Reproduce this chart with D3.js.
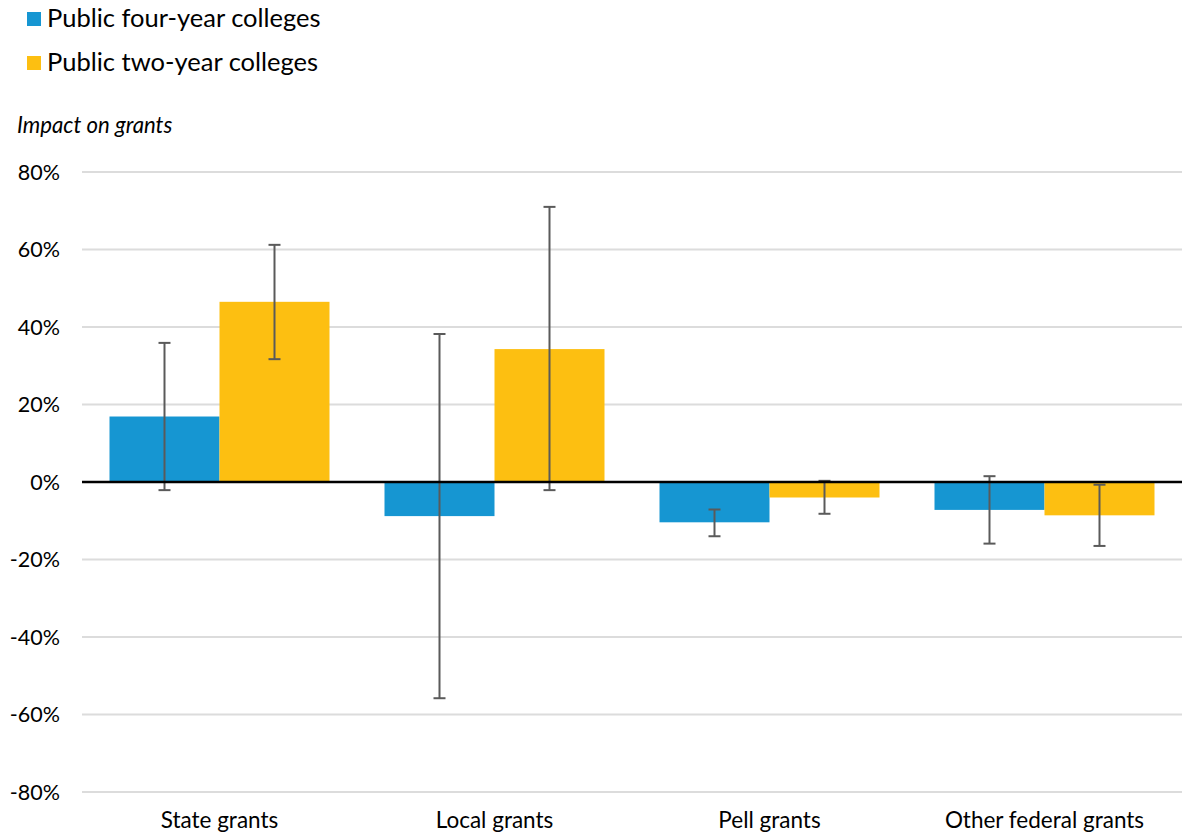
<!DOCTYPE html>
<html><head><meta charset="utf-8">
<script src="https://cdn.jsdelivr.net/npm/d3@7"></script>
<style>
body{margin:0;background:#fff;}
text{font-family:Lato,"Noto Sans",sans-serif;fill:#000;}
</style></head>
<body><svg id="c" width="1183" height="836"></svg>
<script>
const categories = ["State grants","Local grants","Pell grants","Other federal grants"];
const seriesNames = ["Public four-year colleges","Public two-year colleges"];
const fourYear = [16.9, -8.8, -10.4, -7.2];
const fourYearLow = [-2.1, -55.8, -14.0, -15.9];
const fourYearHigh = [35.9, 38.2, -7.1, 1.5];
const twoYear = [46.5, 34.3, -4.0, -8.6];
const twoYearLow = [31.7, -2.1, -8.2, -16.5];
const twoYearHigh = [61.2, 71.0, 0.3, -0.7];
const yTicks = [-80,-60,-40,-20,0,20,40,60,80];
const colors = ["#1696d2","#fdbf11"];

const svg = d3.select("#c");
const margin = {left:82, right:1, top:172, bottom:44};
const W = 1183, H = 836;
const x0 = d3.scaleBand().domain(categories).range([margin.left, W-margin.right]).paddingInner(0.2).paddingOuter(0.1);
const x1 = d3.scaleBand().domain([0,1]).range([0, x0.bandwidth()]);
const y = d3.scaleLinear().domain([-80,80]).range([H-margin.bottom, margin.top]);

// gridlines
svg.append("g").selectAll("line").data(yTicks.filter(d=>d!==0)).join("line")
  .attr("x1", margin.left).attr("x2", W-margin.right)
  .attr("y1", d=>y(d)).attr("y2", d=>y(d))
  .attr("stroke","#dcdcdc").attr("stroke-width",2);

// y labels
svg.append("g").selectAll("text").data(yTicks).join("text")
  .attr("x", 60).attr("y", d=>y(d)).attr("dy","0.35em")
  .attr("text-anchor","end").attr("font-size",21.5)
  .text(d=>d+"%");

// data
const data = categories.map((c,i)=>({c, vals:[
  {s:0, v:fourYear[i], lo:fourYearLow[i], hi:fourYearHigh[i]},
  {s:1, v:twoYear[i], lo:twoYearLow[i], hi:twoYearHigh[i]}]}));

const g = svg.append("g").selectAll("g").data(data).join("g")
  .attr("transform", d=>`translate(${x0(d.c)},0)`);
g.selectAll("rect").data(d=>d.vals).join("rect")
  .attr("x", d=>x1(d.s)).attr("width", x1.bandwidth())
  .attr("y", d=>y(Math.max(0,d.v))).attr("height", d=>Math.abs(y(d.v)-y(0)))
  .attr("fill", d=>colors[d.s]);

// zero line
svg.append("line").attr("x1", margin.left).attr("x2", W-margin.right)
  .attr("y1", y(0)).attr("y2", y(0)).attr("stroke","#000").attr("stroke-width",2.5);

// error bars
const eb = g.selectAll("g.eb").data(d=>d.vals).join("g").attr("class","eb")
  .attr("stroke","#5a5a5a").attr("stroke-width",2);
eb.append("line").attr("x1", d=>x1(d.s)+x1.bandwidth()/2).attr("x2", d=>x1(d.s)+x1.bandwidth()/2)
  .attr("y1", d=>y(d.hi)).attr("y2", d=>y(d.lo));
eb.append("line").attr("x1", d=>x1(d.s)+x1.bandwidth()/2-6).attr("x2", d=>x1(d.s)+x1.bandwidth()/2+6)
  .attr("y1", d=>y(d.hi)).attr("y2", d=>y(d.hi));
eb.append("line").attr("x1", d=>x1(d.s)+x1.bandwidth()/2-6).attr("x2", d=>x1(d.s)+x1.bandwidth()/2+6)
  .attr("y1", d=>y(d.lo)).attr("y2", d=>y(d.lo));

// category labels
svg.append("g").selectAll("text").data(categories).join("text")
  .attr("x", d=>x0(d)+x0.bandwidth()/2).attr("y", 828)
  .attr("text-anchor","middle").attr("font-size",22.5).text(d=>d);

// axis title
svg.append("text").attr("x",17).attr("y",133).attr("font-size",22.2).attr("font-style","italic").text("Impact on grants");

// legend
const lg = svg.append("g").selectAll("g").data(seriesNames).join("g")
  .attr("transform",(d,i)=>`translate(27,${12+i*44})`);
lg.append("rect").attr("width",14).attr("height",14).attr("fill",(d,i)=>colors[i]);
lg.append("text").attr("x",20).attr("y",15).attr("font-size",25.5).text(d=>d);
</script></body></html>
